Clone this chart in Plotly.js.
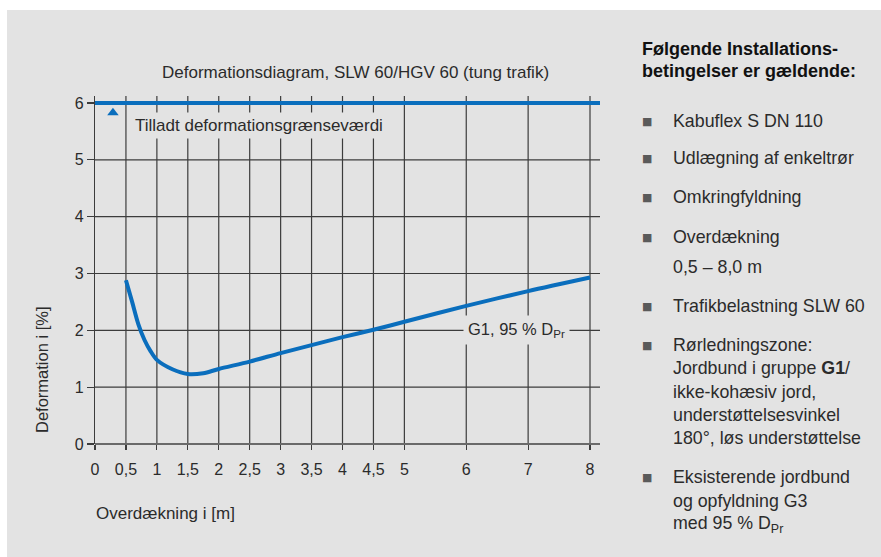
<!DOCTYPE html>
<html>
<head>
<meta charset="utf-8">
<script src="https://cdn.plot.ly/plotly-3.0.1.min.js"></script>
<style>
  html, body { margin:0; padding:0; background:#ffffff; }
  #chart { position:absolute; left:7px; top:10px; width:874px; height:547px; }
  #veil { position:absolute; left:0; top:0; width:881px; height:557px; z-index:10;
          background: rgba(255,255,255,0.004); font:10px sans-serif; color:rgba(0,0,0,0); pointer-events:none; }
  #chart path.xgrid, #chart path.ygrid { shape-rendering: geometricPrecision !important; }
</style>
</head>
<body>
<div id="chart"></div>
<div id="veil">&nbsp;</div>
<script>
// ---- data ----
const coverDepth = [0.5, 0.6, 0.7, 0.8, 0.9, 1.0, 1.25, 1.5, 1.75, 2.0, 2.5, 3.0, 3.5, 4.0, 4.5, 5, 6, 7, 8];
const deformation = [2.88, 2.5, 2.11, 1.83, 1.63, 1.48, 1.315, 1.23, 1.245, 1.32, 1.45, 1.60, 1.74, 1.88, 2.01, 2.15, 2.43, 2.69, 2.93];
const limitValue = 6;
const xTickVals = [0, 0.5, 1, 1.5, 2, 2.5, 3, 3.5, 4, 4.5, 5, 6, 7, 8];
const xTickText = ['0', '0,5', '1', '1,5', '2', '2,5', '3', '3,5', '4', '4,5', '5', '6', '7', '8'];
const yTickVals = [0, 1, 2, 3, 4, 5, 6];
const chartTitle = 'Deformationsdiagram, SLW 60/HGV 60 (tung trafik)';
const xTitle = 'Overdækning i [m]';
const yTitle = 'Deformation i [%]';
const limitLabel = 'Tilladt deformationsgrænseværdi';
const curveLabel = 'G1, 95 % D<sub>Pr</sub>';
const headerLines = ['Følgende Installations-', 'betingelser er gældende:'];
const bulletItems = [
  ['Kabuflex S DN 110'],
  ['Udlægning af enkeltrør'],
  ['Omkringfyldning'],
  ['Overdækning', '0,5 – 8,0 m'],
  ['Trafikbelastning SLW 60'],
  ['Rørledningszone:', 'Jordbund i gruppe <b>G1</b>/', 'ikke-kohæsiv jord,', 'understøttelsesvinkel', '180°, løs understøttelse'],
  ['Eksisterende jordbund', 'og opfyldning G3', 'med 95 % D<sub>Pr</sub>']
];

// ---- layout helpers (page px -> paper coords) ----
const PL = 95, PR = 600, PT = 96, PB = 444;
const fx = px => (px - PL) / (PR - PL);
const fy = py => (PB - py) / (PB - PT);
const xRange = [0, 8 * (PR - PL) / 495];
const yRange = [0, 6 * (PB - PT) / 341];

const FONT = '"Liberation Sans", Arial, sans-serif';
const TXT = '#2b2b2b';
const BLUE = '#0a6ebd';
const BG = '#e3e3e3';
const GRID = '#3c3c3c';

const traces = [
  {x: [-0.08, xRange[1]], y: [limitValue, limitValue], mode: 'lines', line: {color: BLUE, width: 4},
   cliponaxis: false, hoverinfo: 'skip', showlegend: false},
  {x: coverDepth, y: deformation, mode: 'lines', line: {color: BLUE, width: 4, shape: 'spline', smoothing: 0.8},
   showlegend: false},
  {x: [0.29], y: [limitValue - 0.17], mode: 'markers', marker: {symbol: 'triangle-up', size: 10, color: BLUE},
   showlegend: false, hoverinfo: 'skip'}
];

const annotations = [
  {text: chartTitle, xref: 'paper', yref: 'paper', x: fx(355), y: fy(72), showarrow: false,
   xanchor: 'center', yanchor: 'middle', font: {family: FONT, size: 17, color: TXT}},
  {text: limitLabel, xref: 'paper', yref: 'paper', x: fx(131), y: fy(126), showarrow: false,
   xanchor: 'left', yanchor: 'middle', bgcolor: BG, borderpad: 3, font: {family: FONT, size: 17, color: TXT}},
  {text: curveLabel, xref: 'paper', yref: 'paper', x: fx(516), y: fy(330), showarrow: false,
   xanchor: 'center', yanchor: 'middle', bgcolor: BG, borderpad: 4, font: {family: FONT, size: 16.5, color: TXT}},
  {text: xTitle, xref: 'paper', yref: 'paper', x: fx(94), y: fy(513), showarrow: false,
   xanchor: 'left', yanchor: 'middle', font: {family: FONT, size: 17, color: TXT}},
  {text: yTitle, xref: 'paper', yref: 'paper', x: fx(42), y: fy(370), showarrow: false, textangle: -90,
   xanchor: 'center', yanchor: 'middle', font: {family: FONT, size: 16.5, color: TXT}}
];

const headerY = [49, 71];
headerLines.forEach((t, i) => annotations.push({
  text: '<b>' + t + '</b>', xref: 'paper', yref: 'paper', x: fx(640), y: fy(headerY[i]), showarrow: false,
  xanchor: 'left', yanchor: 'middle', font: {family: FONT, size: 18, color: '#111'}
}));

const lineYs = [[121], [158], [197], [237, 267], [306], [345, 368, 392, 415, 438], [477, 501, 524]];
bulletItems.forEach((item, i) => {
  annotations.push({
    text: '■', xref: 'paper', yref: 'paper', x: fx(646.5), y: fy(lineYs[i][0] + 0.5), showarrow: false,
    xanchor: 'center', yanchor: 'middle', font: {family: 'DejaVu Sans', size: 11, color: '#5a5a5a'}
  });
  item.forEach((t, j) => annotations.push({
    text: t, xref: 'paper', yref: 'paper', x: fx(671), y: fy(lineYs[i][j]), showarrow: false,
    xanchor: 'left', yanchor: 'middle', font: {family: FONT, size: 17.8, color: TXT}
  }));
});

const layout = {
  width: 874, height: 547,
  margin: {l: PL - 7, r: 881 - PR, t: PT - 10, b: 557 - PB, pad: 0},
  paper_bgcolor: BG, plot_bgcolor: BG,
  font: {family: FONT, size: 16, color: TXT},
  showlegend: false,
  xaxis: {
    range: xRange, tickmode: 'array', tickvals: xTickVals, ticktext: xTickText,
    showgrid: true, gridcolor: GRID, gridwidth: 1.2, zeroline: false,
    ticks: 'outside', ticklen: 5, tickcolor: GRID, tickwidth: 1.2,
    ticklabelstandoff: 6,
    tickfont: {family: FONT, size: 16, color: TXT}
  },
  yaxis: {
    range: yRange, tickmode: 'array', tickvals: yTickVals,
    showgrid: true, gridcolor: GRID, gridwidth: 1.2,
    zeroline: true, zerolinecolor: '#6a6a6a', zerolinewidth: 2,
    showline: true, linecolor: GRID, linewidth: 1.2,
    ticks: 'outside', ticklen: 7, tickcolor: GRID, tickwidth: 1.2,
    tickfont: {family: FONT, size: 16, color: TXT}
  },
  annotations: annotations
};

Plotly.newPlot('chart', traces, layout, {displayModeBar: false, staticPlot: true}).then(() => {
  document.querySelectorAll('#chart svg path').forEach(p => { p.getBoundingClientRect(); getComputedStyle(p).stroke; });
  document.getElementById('veil').textContent = '\u00a0';
  void document.body.offsetHeight;
});
</script>
</body>
</html>
